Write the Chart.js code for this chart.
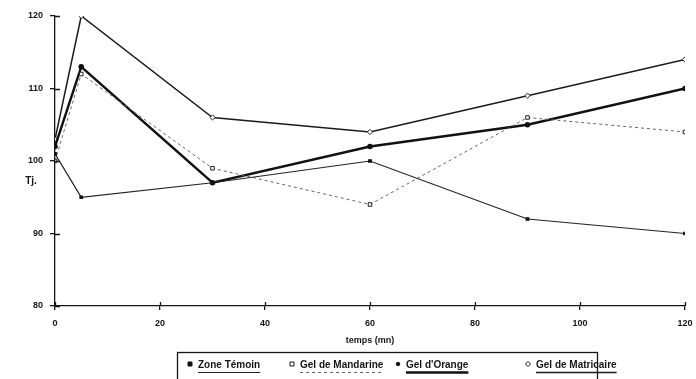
<!DOCTYPE html>
<html>
<head>
<meta charset="utf-8">
<script src="https://cdn.jsdelivr.net/npm/chart.js@4.4.0/dist/chart.umd.min.js"></script>
<style>
  html, body { margin: 0; padding: 0; background: #fff; }
</style>
</head>
<body>
<canvas id="chart" width="696" height="379"></canvas>
<script>
// values (time in minutes)
const times = [0, 5, 30, 60, 90, 120];
const zoneTemoin = [101, 95, 97, 100, 92, 90];
const gelMandarine = [100, 112, 99, 94, 106, 104];
const gelOrange = [102, 113, 97, 102, 105, 110];
const gelMatricaire = [103, 120, 106, 104, 109, 114];
const seriesLabels = ["Zone Témoin", "Gel de Mandarine", "Gel d'Orange", "Gel de Matricaire"];
const xTitle = "temps (mn)";
const yTitle = "Tj.";

const ink = "#151515";
const font = "Liberation Sans, Arial, sans-serif";

function toPoints(values) {
  return times.map((t, i) => ({ x: t, y: values[i] }));
}

// extra bits: inner half of tick marks, axis titles, boxed legend
const decor = {
  id: "decor",
  afterDraw(chart) {
    const ctx = chart.ctx;
    const xs = chart.scales.x;
    const ys = chart.scales.y;
    ctx.save();
    ctx.strokeStyle = ink;
    ctx.lineWidth = 1.3;
    ctx.beginPath();
    xs.ticks.forEach((t) => {
      const px = Math.round(xs.getPixelForValue(t.value)) + 0.5;
      ctx.moveTo(px, ys.bottom);
      ctx.lineTo(px, ys.bottom - 4);
    });
    ys.ticks.forEach((t) => {
      const py = Math.round(ys.getPixelForValue(t.value)) + 0.5;
      ctx.moveTo(xs.left, py);
      ctx.lineTo(xs.left + 5, py);
    });
    ctx.stroke();

    ctx.fillStyle = ink;
    ctx.font = "bold 9px " + font;
    ctx.textAlign = "center";
    ctx.textBaseline = "middle";
    ctx.fillText(xTitle, (xs.left + xs.right) / 2, 341);
    ctx.font = "bold 10px " + font;
    ctx.fillText(yTitle, 31, 181);

    // legend box
    ctx.lineWidth = 1.3;
    ctx.strokeRect(177.5, 352.5, 420, 40);
    const itemX = [190, 292, 398, 528];
    ctx.font = "bold 10px " + font;
    ctx.textAlign = "left";
    chart.data.datasets.forEach((ds, i) => {
      const mx = itemX[i];
      const my = 364;
      // marker
      ctx.fillStyle = ds.pointBackgroundColor;
      ctx.strokeStyle = ink;
      ctx.lineWidth = 1;
      ctx.setLineDash([]);
      ctx.beginPath();
      if (ds.pointStyle === "rectRot") {
        ctx.moveTo(mx, my - 2.5); ctx.lineTo(mx + 2.5, my);
        ctx.lineTo(mx, my + 2.5); ctx.lineTo(mx - 2.5, my); ctx.closePath();
      } else if (ds.pointStyle === "circle") {
        ctx.arc(mx, my, 1.8, 0, Math.PI * 2);
      } else {
        ctx.rect(mx - 2, my - 2, 4, 4);
      }
      ctx.fill();
      ctx.stroke();
      // text
      const tx = mx + 8;
      ctx.fillStyle = ink;
      ctx.fillText(ds.label, tx, my + 1);
      // line sample under the text
      const w = ctx.measureText(ds.label).width;
      ctx.strokeStyle = ds.borderColor;
      ctx.lineWidth = ds.borderWidth;
      ctx.setLineDash(ds.borderDash || []);
      ctx.beginPath();
      ctx.moveTo(tx, 372.5);
      ctx.lineTo(tx + w, 372.5);
      ctx.stroke();
    });
    ctx.restore();
  },
};

new Chart(document.getElementById("chart"), {
  type: "line",
  data: {
    datasets: [
      {
        label: seriesLabels[0],
        data: toPoints(zoneTemoin),
        borderColor: "#222",
        borderWidth: 1.2,
        pointStyle: "rect",
        pointRadius: 1.8,
        pointBackgroundColor: "#111",
        pointBorderColor: "#111",
      },
      {
        label: seriesLabels[1],
        data: toPoints(gelMandarine),
        borderColor: "#666",
        borderWidth: 1,
        borderDash: [3, 3],
        pointStyle: "rect",
        pointRadius: 2.5,
        pointBackgroundColor: "#fff",
        pointBorderColor: "#222",
        pointBorderWidth: 1,
      },
      {
        label: seriesLabels[2],
        data: toPoints(gelOrange),
        borderColor: "#111",
        borderWidth: 2.4,
        pointStyle: "circle",
        pointRadius: 1.6,
        pointBackgroundColor: "#111",
        pointBorderColor: "#111",
      },
      {
        label: seriesLabels[3],
        data: toPoints(gelMatricaire),
        borderColor: "#1a1a1a",
        borderWidth: 1.5,
        pointStyle: "rectRot",
        pointRadius: 2.6,
        pointBackgroundColor: "#fff",
        pointBorderColor: "#222",
        pointBorderWidth: 1,
      },
    ],
  },
  options: {
    responsive: false,
    animation: false,
    devicePixelRatio: 1,
    layout: { padding: { top: 16, right: 11, left: 0, bottom: 0 } },
    plugins: {
      legend: { display: false },
      tooltip: { enabled: false },
    },
    elements: { line: { tension: 0 } },
    scales: {
      x: {
        type: "linear",
        min: 0,
        max: 120,
        afterBuildTicks: (scale) => { scale.ticks = [0, 20, 40, 60, 80, 100, 120].map((v) => ({ value: v })); },
        afterFit: (scale) => { scale.height = 73; scale.paddingLeft = 0; scale.paddingRight = 0; },
        border: { display: true, color: ink, width: 1.3 },
        grid: { drawOnChartArea: false, drawTicks: true, tickLength: 4, color: ink, lineWidth: 1.3 },
        ticks: { color: ink, padding: 8, maxRotation: 0, font: { family: font, size: 9, weight: "bold" } },
      },
      y: {
        min: 80,
        max: 120,
        afterBuildTicks: (scale) => { scale.ticks = [80, 90, 100, 110, 120].map((v) => ({ value: v })); },
        afterFit: (scale) => { scale.width = 55; scale.paddingTop = 0; scale.paddingBottom = 0; },
        border: { display: true, color: ink, width: 1.3 },
        grid: { drawOnChartArea: false, drawTicks: true, tickLength: 5, color: ink, lineWidth: 1.3 },
        ticks: { color: ink, padding: 7, font: { family: font, size: 9, weight: "bold" } },
      },
    },
  },
  plugins: [decor],
});
</script>
</body>
</html>
